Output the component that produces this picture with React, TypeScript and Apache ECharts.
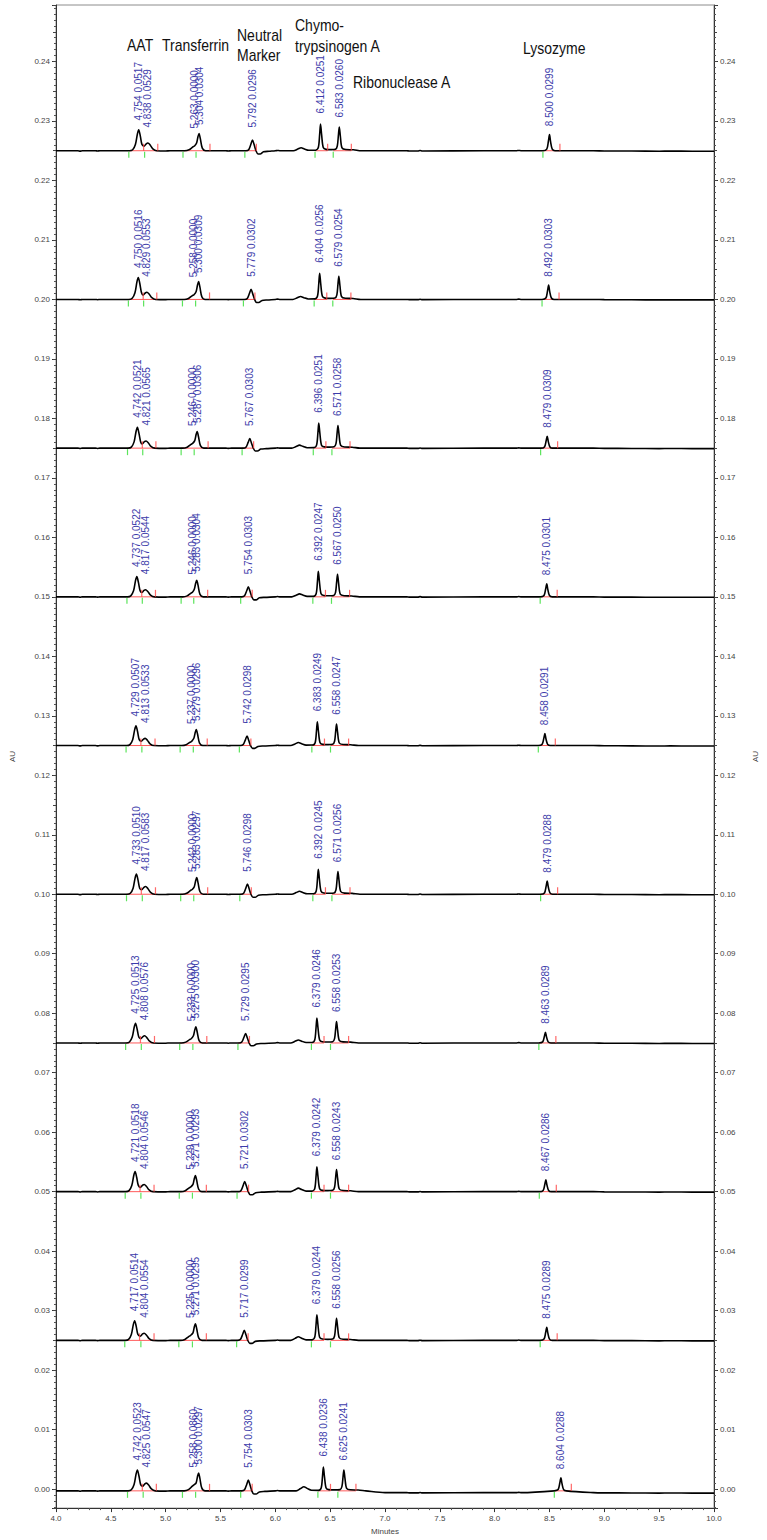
import React, { useEffect, useRef } from 'react';
import * as echarts from 'echarts';

// Trace baselines (AU), top to bottom
const BASELINES = [0.225, 0.2, 0.175, 0.15, 0.125, 0.1, 0.075, 0.05, 0.025, -0.0003];
// late baseline drift (1e-4 AU) per trace
const TAILS = [0, 0, 0, 0, 0, 0, 0, 0, 0, -3];

// Retention times: AAT, AAT2, Tf1, Tf2, Neutral marker, small bump, Chymotrypsinogen A, Ribonuclease A, Lysozyme
const RT = [
  [4.754, 4.838, 5.263, 5.304, 5.792, 6.235, 6.412, 6.583, 8.5],
  [4.75, 4.829, 5.258, 5.3, 5.779, 6.23, 6.404, 6.579, 8.492],
  [4.742, 4.821, 5.246, 5.287, 5.767, 6.22, 6.396, 6.571, 8.479],
  [4.737, 4.817, 5.246, 5.283, 5.754, 6.22, 6.392, 6.567, 8.475],
  [4.729, 4.813, 5.237, 5.279, 5.742, 6.21, 6.383, 6.558, 8.458],
  [4.733, 4.817, 5.242, 5.283, 5.746, 6.22, 6.392, 6.571, 8.479],
  [4.725, 4.808, 5.233, 5.275, 5.729, 6.21, 6.379, 6.558, 8.463],
  [4.721, 4.804, 5.229, 5.271, 5.721, 6.21, 6.379, 6.558, 8.467],
  [4.717, 4.804, 5.225, 5.271, 5.717, 6.21, 6.379, 6.558, 8.475],
  [4.742, 4.825, 5.258, 5.3, 5.754, 6.26, 6.438, 6.625, 8.604],
];

// Peak heights above baseline (1e-4 AU), same order as RT
const HEIGHTS = [
  [35, 13, 8, 29, 18, 5, 45, 40, 27],
  [37, 12, 8, 30, 17, 5, 44, 39, 24],
  [35, 12, 8, 28, 16, 5, 42, 38, 20],
  [34, 12, 8, 28, 17, 5, 43, 38, 22],
  [33, 12, 7, 27, 16, 5, 40, 36, 20],
  [34, 13, 8, 28, 17, 5, 42, 38, 22],
  [33, 12, 7, 27, 16, 5, 42, 36, 18],
  [34, 12, 8, 27, 17, 6, 42, 37, 20],
  [33, 12, 8, 28, 17, 6, 43, 37, 22],
  [35, 13, 10, 30, 18, 7, 40, 35, 22],
];

// Peak annotations (second number), for labelled peaks
const AREAS = [
  ['0.0517', '0.0529', '0.0000', '0.0304', '0.0296', '0.0251', '0.0260', '0.0299'],
  ['0.0516', '0.0553', '0.0000', '0.0309', '0.0302', '0.0256', '0.0254', '0.0303'],
  ['0.0521', '0.0565', '0.0000', '0.0306', '0.0303', '0.0251', '0.0258', '0.0309'],
  ['0.0522', '0.0544', '0.0000', '0.0304', '0.0303', '0.0247', '0.0250', '0.0301'],
  ['0.0507', '0.0533', '0.0000', '0.0296', '0.0298', '0.0249', '0.0247', '0.0291'],
  ['0.0510', '0.0583', '0.0000', '0.0297', '0.0298', '0.0245', '0.0256', '0.0288'],
  ['0.0513', '0.0576', '0.0000', '0.0300', '0.0295', '0.0246', '0.0253', '0.0289'],
  ['0.0518', '0.0546', '0.0000', '0.0293', '0.0302', '0.0242', '0.0243', '0.0286'],
  ['0.0514', '0.0554', '0.0000', '0.0295', '0.0299', '0.0244', '0.0256', '0.0289'],
  ['0.0523', '0.0547', '0.0860', '0.0297', '0.0303', '0.0236', '0.0241', '0.0288'],
];
const LABEL_PEAKS = [0, 1, 2, 3, 4, 6, 7, 8];
const LABEL_GAP = [9, 15, 17, 8, 12, 10, 9, 8];

// Peak profile: [peak ref, time offset, fraction of height]
// ref -1: absolute time / absolute height (1e-4); ref -2: absolute time, height relative to tail drift
const PROFILE: [number, number, number][] = [
  [-1, 4.0, 0], [-1, 4.2, 0], [-1, 4.22, -0.6], [-1, 4.24, 0],
  [-1, 4.36, 0], [-1, 4.38, -0.5], [-1, 4.4, 0],
  [0, -0.085, 0], [0, -0.055, 0.05], [0, -0.03, 0.3], [0, -0.012, 0.8], [0, 0, 1], [0, 0.015, 0.7], [0, 0.03, 0.3],
  [1, -0.035, 0.6], [1, -0.015, 0.9], [1, 0, 1], [1, 0.02, 0.75], [1, 0.045, 0.25], [1, 0.08, 0],
  [-1, 5.0, -0.4], [-1, 5.04, 0],
  [2, -0.09, 0], [2, -0.05, 0.2], [2, -0.015, 0.8], [2, 0, 1],
  [3, -0.022, 0.45], [3, -0.01, 0.8], [3, 0, 1], [3, 0.012, 0.7], [3, 0.03, 0.15], [3, 0.06, 0],
  [-1, 5.55, 0], [-1, 5.57, -0.4], [-1, 5.6, 0],
  [4, -0.06, 0], [4, -0.035, 0.1], [4, -0.015, 0.6], [4, 0, 1], [4, 0.015, 0.55], [4, 0.032, 0],
  [4, 0.05, -0.3], [4, 0.07, -0.3], [4, 0.1, -0.1], [4, 0.15, -0.05],
  [-1, 6.0, 0], [-1, 6.02, 0.5], [-1, 6.04, 0],
  [5, -0.07, 0], [5, -0.03, 0.55], [5, 0, 1], [5, 0.03, 0.6], [5, 0.07, 0.15],
  [6, -0.045, 0.02], [6, -0.02, 0.12], [6, -0.008, 0.6], [6, 0, 1], [6, 0.01, 0.6], [6, 0.025, 0.12], [6, 0.05, 0.05], [6, 0.1, 0.04],
  [7, -0.035, 0.06], [7, -0.018, 0.2], [7, -0.008, 0.65], [7, 0, 1], [7, 0.01, 0.6], [7, 0.025, 0.12], [7, 0.06, 0.05], [7, 0.13, 0.04], [7, 0.2, 0],
  [-2, 7.0, 0], [-2, 7.2, 0], [-2, 7.22, -0.4], [-2, 7.3, -0.4], [-2, 7.32, 0.3], [-2, 7.34, -0.4],
  [-2, 7.9, 0], [-2, 8.2, 0], [-2, 8.22, 0.5], [-2, 8.24, 0],
  [8, -0.06, 0], [8, -0.025, 0.1], [8, -0.01, 0.6], [8, 0, 1], [8, 0.01, 0.55], [8, 0.025, 0.1], [8, 0.05, 0],
  [-2, 8.9, 0], [-2, 9.0, -0.4], [-2, 9.25, -0.5], [-2, 9.5, -0.8], [-2, 9.6, -0.6], [-2, 9.8, -0.8], [-2, 10.0, -0.8],
];

// Integration events: [peak ref, time offset]
const START_MARKS: [number, number][] = [[0, -0.09], [1, -0.03], [2, -0.105], [3, -0.027], [4, -0.07], [6, -0.05], [7, -0.055], [8, -0.06]];
const END_MARKS: [number, number][] = [[0, 0.045], [1, 0.09], [3, 0.1], [4, 0.035], [6, 0.065], [7, 0.11], [8, 0.095]];
const BASE_SEGMENTS: [number, number, number, number][] = [
  [0, -0.09, 1, 0.09], [2, -0.105, 3, 0.1], [4, -0.07, 4, 0.035], [6, -0.05, 6, 0.065], [7, -0.055, 7, 0.11], [8, -0.06, 8, 0.095],
];

const NAMES = [
  { text: 'AAT', x: 127, y: 45 },
  { text: 'Transferrin', x: 162, y: 45 },
  { text: 'Neutral', x: 237, y: 35 },
  { text: 'Marker', x: 237, y: 55 },
  { text: 'Chymo-', x: 295, y: 25 },
  { text: 'trypsinogen A', x: 295, y: 46 },
  { text: 'Ribonuclease A', x: 353, y: 82 },
  { text: 'Lysozyme', x: 523, y: 48 },
];

const FONT = 'Liberation Sans, Arial, sans-serif';

function tracePoints(i: number) {
  const base = BASELINES[i];
  const pts = PROFILE.map(([ref, dt, f]) => {
    let x: number;
    let y: number;
    if (ref === -1) { x = dt; y = f; }
    else if (ref === -2) { x = dt; y = TAILS[i] + f; }
    else { x = RT[i][ref] + dt; y = HEIGHTS[i][ref] * f; }
    return [x, base + y * 1e-4];
  });
  pts.sort((a, b) => a[0] - b[0]);
  return pts;
}

export default function App() {
  const ref = useRef<HTMLDivElement>(null);
  useEffect(() => {
    document.body.style.margin = '0';
    if (!ref.current) return;
    const chart = echarts.init(ref.current, null, { renderer: 'svg' });

    const traceSeries = BASELINES.map((_, i) => ({
      type: 'line',
      data: tracePoints(i),
      showSymbol: false,
      smooth: 0.3,
      lineStyle: { color: '#000', width: 1.6 },
      z: 5,
      silent: true,
    }));

    const segData: any[] = [];
    const greenData: any[] = [];
    const redData: any[] = [];
    const labelData: any[] = [];
    BASELINES.forEach((base, i) => {
      BASE_SEGMENTS.forEach(([a, da, b, db]) => {
        segData.push([RT[i][a] + da, base]);
        segData.push([RT[i][b] + db, base]);
        segData.push([RT[i][b] + db, null]);
      });
      START_MARKS.forEach(([k, d]) => greenData.push([RT[i][k] + d, base]));
      END_MARKS.forEach(([k, d]) => redData.push([RT[i][k] + d, base]));
      LABEL_PEAKS.forEach((k, j) => {
        labelData.push({
          value: [RT[i][k], base + HEIGHTS[i][k] * 1e-4],
          text: `${RT[i][k].toFixed(3)} ${AREAS[i][j]}`,
          label: { distance: LABEL_GAP[j] },
        });
      });
    });

    const yAxisBase = (pos: 'left' | 'right') => ({
      type: 'value',
      position: pos,
      min: -0.0032,
      max: 0.2495,
      splitNumber: 25,
      name: 'AU',
      nameLocation: 'middle',
      nameGap: pos === 'left' ? 40 : 37,
      nameRotate: 90,
      nameTextStyle: { fontSize: 8, color: '#444', fontFamily: FONT },
      axisLine: { show: true, lineStyle: { color: '#333', width: 1 } },
      axisTick: { show: true, length: 4, lineStyle: { color: '#333' } },
      minorTick: { show: true, splitNumber: 10, length: 2, lineStyle: { color: '#555' } },
      axisLabel: {
        fontSize: 8,
        color: '#444',
        fontFamily: FONT,
        margin: 6,
        showMinLabel: false,
        showMaxLabel: false,
        formatter: (v: number) => v.toFixed(2),
      },
      splitLine: { show: false },
    });

    // secondary axes only for the medium (0.005) ticks
    const yAxisMid = (pos: 'left' | 'right') => ({
      type: 'value',
      position: pos,
      min: -0.0032,
      max: 0.2495,
      splitNumber: 50,
      axisLine: { show: false },
      axisTick: { show: true, length: 3, lineStyle: { color: '#444' } },
      axisLabel: { show: false },
      splitLine: { show: false },
    });

    const option: any = {
      animation: false,
      backgroundColor: '#fff',
      grid: { left: 55, right: 43, top: 5, bottom: 29, show: true, borderColor: '#8c8c8c', borderWidth: 1 },
      xAxis: {
        type: 'value',
        min: 4,
        max: 10,
        interval: 0.5,
        name: 'Minutes',
        nameLocation: 'middle',
        nameGap: 18,
        nameTextStyle: { fontSize: 8, color: '#444', fontFamily: FONT },
        axisLine: { show: true, onZero: false, lineStyle: { color: '#333' } },
        axisTick: { show: true, length: 4, lineStyle: { color: '#333' } },
        minorTick: { show: true, splitNumber: 5, length: 2, lineStyle: { color: '#555' } },
        axisLabel: { fontSize: 8, color: '#444', fontFamily: FONT, margin: 6, formatter: (v: number) => v.toFixed(1) },
        splitLine: { show: false },
      },
      yAxis: [yAxisBase('left'), yAxisBase('right'), yAxisMid('left'), yAxisMid('right')],
      graphic: NAMES.map((n) => ({
        type: 'text',
        x: n.x,
        y: n.y,
        scaleY: 1.15,
        style: { text: n.text, fontSize: 14, fontFamily: FONT, fill: '#111', verticalAlign: 'middle', align: 'left' },
        z: 20,
      })),
      series: [
        {
          type: 'line',
          data: segData,
          showSymbol: false,
          connectNulls: false,
          lineStyle: { color: '#ff5a5a', width: 1 },
          z: 3,
          silent: true,
        },
        ...traceSeries,
        {
          type: 'scatter',
          data: greenData,
          symbol: 'rect',
          symbolSize: [1.2, 6],
          symbolOffset: [0, 4],
          itemStyle: { color: '#33dd33' },
          z: 6,
          silent: true,
        },
        {
          type: 'scatter',
          data: redData,
          symbol: 'rect',
          symbolSize: [1.2, 7],
          symbolOffset: [0, -3.5],
          itemStyle: { color: '#ff4444' },
          z: 6,
          silent: true,
        },
        {
          type: 'scatter',
          data: labelData,
          symbol: 'circle',
          symbolSize: 1,
          itemStyle: { color: 'rgba(0,0,0,0)' },
          z: 7,
          silent: true,
          label: {
            show: true,
            position: 'top',
            rotate: 90,
            align: 'left',
            verticalAlign: 'middle',
            fontSize: 10,
            fontFamily: FONT,
            color: '#3c3caa',
            opacity: 1,
            offset: [1.5, 0],
            formatter: (p: any) => p.data.text,
          },
          labelLayout: { hideOverlap: false },
        },
      ],
    };
    chart.setOption(option);
    return () => chart.dispose();
  }, []);
  return <div ref={ref} style={{ width: 767, height: 1540 }} />;
}
